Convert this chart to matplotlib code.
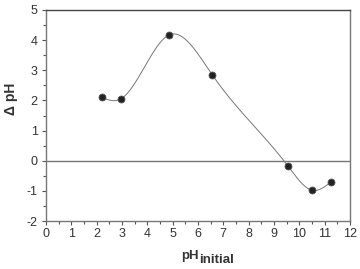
import numpy as np
import matplotlib
matplotlib.use('Agg')
import matplotlib.pyplot as plt
from matplotlib.ticker import MultipleLocator

plt.rcParams['font.family'] = ['Liberation Sans', 'DejaVu Sans']
plt.rcParams['axes.unicode_minus'] = False

ph_initial = [2.2, 2.95, 4.85, 6.57, 9.55, 10.52, 11.27]
delta_ph = [2.1, 2.05, 4.17, 2.84, -0.17, -0.98, -0.69]


def natural_spline(x, y, n=400):
    # natural cubic spline through the measured points
    x = np.asarray(x, float)
    y = np.asarray(y, float)
    m = len(x)
    h = np.diff(x)
    A = np.zeros((m, m))
    b = np.zeros(m)
    A[0, 0] = A[-1, -1] = 1
    for i in range(1, m - 1):
        A[i, i - 1] = h[i - 1]
        A[i, i] = 2 * (h[i - 1] + h[i])
        A[i, i + 1] = h[i]
        b[i] = 6 * ((y[i + 1] - y[i]) / h[i] - (y[i] - y[i - 1]) / h[i - 1])
    M = np.linalg.solve(A, b)
    xs = np.linspace(x[0], x[-1], n)
    idx = np.clip(np.searchsorted(x, xs) - 1, 0, m - 2)
    x0, x1 = x[idx], x[idx + 1]
    hh = x1 - x0
    t0, t1 = x1 - xs, xs - x0
    ys = (M[idx] * t0**3 + M[idx + 1] * t1**3) / (6 * hh) \
        + (y[idx] / hh - M[idx] * hh / 6) * t0 \
        + (y[idx + 1] / hh - M[idx + 1] * hh / 6) * t1
    return xs, ys


fig = plt.figure(figsize=(3.6, 2.69), dpi=100)
ax = fig.add_axes([0.128, 0.178, 0.844, 0.785])

xs, ys = natural_spline(ph_initial, delta_ph)
ax.axhline(0, color='#777777', lw=1.0, zorder=1)
ax.plot(xs, ys, color='#777777', lw=0.7, zorder=2)
ax.plot(ph_initial, delta_ph, 'o', ms=5, color='#222222',
        markeredgecolor='#555555', markeredgewidth=0.6, zorder=3)

ax.set_xlim(0, 12)
ax.set_ylim(-2, 5)
ax.xaxis.set_major_locator(MultipleLocator(1))
ax.xaxis.set_minor_locator(MultipleLocator(0.5))
ax.yaxis.set_major_locator(MultipleLocator(1))
ax.yaxis.set_minor_locator(MultipleLocator(0.5))
ax.tick_params(which='both', direction='out', colors='#555555',
               labelcolor='#333333', labelsize=9, width=0.8)
ax.tick_params(which='major', length=3, pad=2)
ax.tick_params(which='minor', length=2)
ax.tick_params(axis='y', pad=3)

for side in ['left', 'bottom', 'right']:
    ax.spines[side].set_color('#777777')
    ax.spines[side].set_linewidth(1.0)
ax.spines['top'].set_color('#444444')
ax.spines['top'].set_linewidth(1.0)

# axis titles placed by hand: the subscript is nearly full size
fig.text(199 / 360, 10 / 269, 'pH', fontsize=9.5, fontweight='bold',
         color='#333333', ha='right', va='baseline')
fig.text(199 / 360, 6 / 269, 'initial', fontsize=9.5, fontweight='bold',
         color='#333333', ha='left', va='baseline')
fig.text(10.5 / 360, 1 - 99 / 269, 'Δ pH', fontsize=10, fontweight='bold',
         color='#333333', rotation=90, ha='center', va='center')

fig.savefig('out.png', dpi=100)
